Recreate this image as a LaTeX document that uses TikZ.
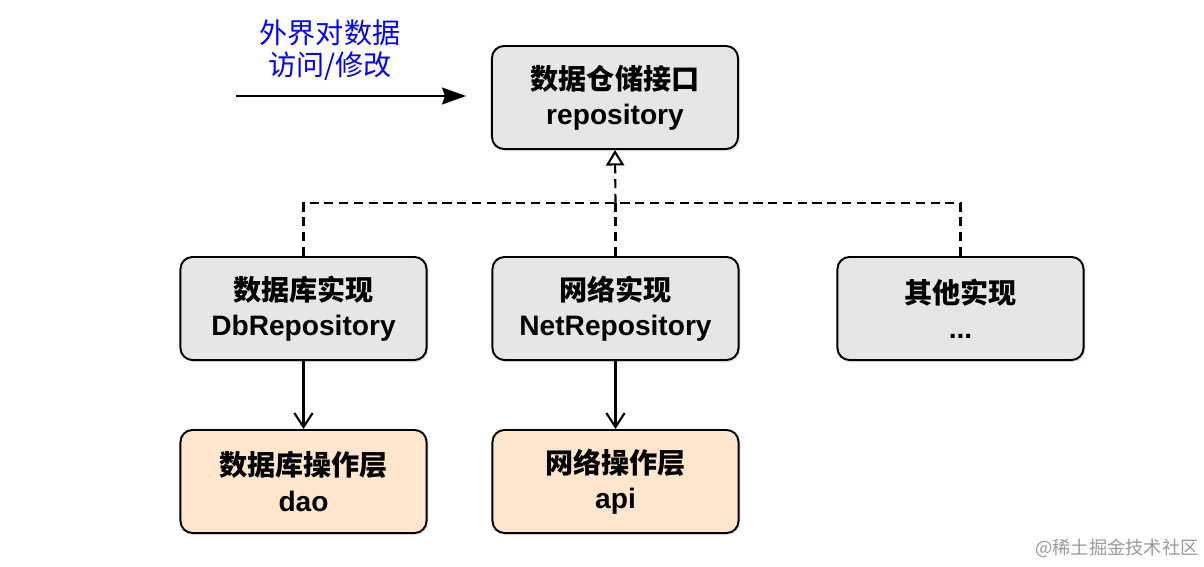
\documentclass[tikz,border=0pt]{standalone}
\usepackage{fontspec}
\setmainfont{Liberation Sans}
\newfontfamily\cjk{Noto Sans CJK SC}
\usetikzlibrary{arrows.meta,shadows}
\definecolor{boxgray}{HTML}{E6E6E6}
\definecolor{boxorange}{HTML}{FFE6CC}
\tikzset{
  box/.style={rectangle, rounded corners=0.3cm, draw, line width=1.4pt,
    minimum width=6.15cm, minimum height=2.575cm, align=center,
    font=\bfseries\fontsize{20}{25}\selectfont,
    drop shadow={shadow xshift=1.5pt, shadow yshift=-1.5pt, opacity=0.18}},
  impl/.style={box, fill=boxgray},
  layer/.style={box, fill=boxorange},
  link/.style={line width=1.5pt},
  inherit/.style={link, dash pattern=on 6.5pt off 4pt}
}
\begin{document}
\begin{tikzpicture}[x=0.025cm, y=-0.025cm]
\useasboundingbox (0,0) rectangle (1204,566);
\node[impl] (repo) at (615,97.5){{\cjk 数据仓储接口}\\repository};
\node[impl] (dbrepo) at (303.5,308.5){{\cjk 数据库实现}\\DbRepository};
\node[impl] (netrepo) at (615.5,308.5){{\cjk 网络实现}\\NetRepository};
\node[impl] (other) at (960.5,308.5){{\cjk 其他实现}\\...};
\node[layer] (dao) at (303.5,481.5){{\cjk 数据库操作层}\\dao};
\node[layer] (api) at (615.5,481.5){{\cjk 网络操作层}\\api};
\node[align=center, text=blue, font=\cjk\fontsize{20}{22.7}\selectfont] (outside) at (330,50){外界对数据\\访问/修改};
\node[text=black!40, font=\cjk\fontsize{13}{15}\selectfont] (mark) at (1117,548){@稀土掘金技术社区};
\coordinate (callsrc) at (236,96);
\coordinate (calltgt) at (466,96);
\coordinate (bus) at (615.5,203);
\draw[link, -{Stealth[length=17pt, width=12pt, inset=2pt]}] (callsrc) -- (calltgt);
\draw[inherit] (dbrepo.north) |- (bus);
\draw[inherit] (other.north) |- (bus);
\draw[inherit] (netrepo.north) -- (bus);
\draw[inherit, -{Triangle[open, length=11pt, width=13pt, line width=1.5pt]}] (bus) -- (repo.south);
\draw[link, -{Straight Barb[length=10pt, width=13pt, line width=1.5pt]}] (dbrepo) -- (dao);
\draw[link, -{Straight Barb[length=10pt, width=13pt, line width=1.5pt]}] (netrepo) -- (api);
\end{tikzpicture}
\end{document}
